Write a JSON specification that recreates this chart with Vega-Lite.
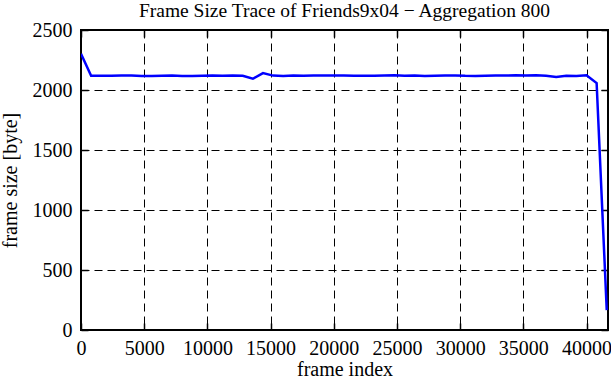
{
  "$schema": "https://vega.github.io/schema/vega-lite/v6.json",
  "autosize": {"type": "none"},
  "padding": {"left": 81, "top": 30, "right": 3, "bottom": 50},
  "width": 527,
  "height": 300,
  "background": "white",
  "title": {
    "text": "Frame Size Trace of Friends9x04 − Aggregation 800",
    "font": "Liberation Serif",
    "fontSize": 19.5,
    "fontWeight": "normal",
    "color": "black",
    "anchor": "middle",
    "offset": -1
  },
  "config": {
    "view": {"stroke": "black", "strokeWidth": 2},
    "axis": {
      "labelFont": "Liberation Serif",
      "labelFontSize": 20,
      "labelColor": "black",
      "titleFont": "Liberation Serif",
      "titleFontSize": 20,
      "titleFontWeight": "normal",
      "titleColor": "black",
      "domain": false,
      "tickColor": "black",
      "tickWidth": 1.5,
      "labelFlush": false,
      "labelOverlap": false
    }
  },
  "data": {
    "values": [
      {"frame": 0, "size": 2302},
      {"frame": 800, "size": 2118},
      {"frame": 1600, "size": 2118},
      {"frame": 2400, "size": 2119},
      {"frame": 3200, "size": 2120},
      {"frame": 4000, "size": 2121},
      {"frame": 4800, "size": 2117},
      {"frame": 5600, "size": 2116},
      {"frame": 6400, "size": 2118},
      {"frame": 7200, "size": 2120},
      {"frame": 8000, "size": 2117},
      {"frame": 8800, "size": 2116},
      {"frame": 9600, "size": 2119},
      {"frame": 10400, "size": 2121},
      {"frame": 11200, "size": 2118},
      {"frame": 12000, "size": 2120},
      {"frame": 12800, "size": 2118},
      {"frame": 13600, "size": 2094},
      {"frame": 14400, "size": 2141},
      {"frame": 15200, "size": 2120},
      {"frame": 16000, "size": 2116},
      {"frame": 16800, "size": 2121},
      {"frame": 17600, "size": 2118},
      {"frame": 18400, "size": 2120},
      {"frame": 19200, "size": 2121},
      {"frame": 20000, "size": 2120},
      {"frame": 20800, "size": 2121},
      {"frame": 21600, "size": 2119},
      {"frame": 22400, "size": 2118},
      {"frame": 23200, "size": 2118},
      {"frame": 24000, "size": 2120},
      {"frame": 24800, "size": 2122},
      {"frame": 25600, "size": 2118},
      {"frame": 26400, "size": 2120},
      {"frame": 27200, "size": 2116},
      {"frame": 28000, "size": 2118},
      {"frame": 28800, "size": 2121},
      {"frame": 29600, "size": 2121},
      {"frame": 30400, "size": 2118},
      {"frame": 31200, "size": 2117},
      {"frame": 32000, "size": 2119},
      {"frame": 32800, "size": 2121},
      {"frame": 33600, "size": 2120},
      {"frame": 34400, "size": 2122},
      {"frame": 35200, "size": 2121},
      {"frame": 36000, "size": 2122},
      {"frame": 36800, "size": 2118},
      {"frame": 37600, "size": 2108},
      {"frame": 38400, "size": 2118},
      {"frame": 39200, "size": 2117},
      {"frame": 40000, "size": 2122},
      {"frame": 40800, "size": 2058},
      {"frame": 41600, "size": 166}
    ]
  },
  "layer": [
    {
      "mark": {"type": "line", "color": "#0000ff", "strokeWidth": 2.5, "clip": true},
      "encoding": {
        "x": {
          "field": "frame", "type": "quantitative",
          "scale": {"domain": [0, 41700], "nice": false, "zero": true},
          "axis": {
            "orient": "bottom",
            "values": [0, 5000, 10000, 15000, 20000, 25000, 30000, 35000, 40000],
            "format": "d",
            "title": "frame index",
            "grid": true, "gridColor": "black", "gridDash": [8, 5], "gridWidth": 1, "gridOpacity": 1,
            "tickSize": -7,
            "labelPadding": 15,
            "titlePadding": 1
          }
        },
        "y": {
          "field": "size", "type": "quantitative",
          "scale": {"domain": [0, 2500], "nice": false},
          "axis": {
            "orient": "left",
            "values": [0, 500, 1000, 1500, 2000, 2500],
            "format": "d",
            "title": "frame size [byte]",
            "grid": true, "gridColor": "black", "gridDash": [8, 5], "gridWidth": 1, "gridOpacity": 1,
            "tickSize": -7,
            "labelPadding": 16,
            "titlePadding": 12
          }
        }
      }
    },
    {
      "mark": {"type": "line", "opacity": 0},
      "encoding": {
        "x": {
          "field": "frame", "type": "quantitative",
          "scale": {"domain": [0, 41700], "nice": false, "zero": true},
          "axis": {
            "orient": "top",
            "values": [0, 5000, 10000, 15000, 20000, 25000, 30000, 35000, 40000],
            "labels": false, "title": null, "grid": false, "tickSize": -7
          }
        },
        "y": {
          "field": "size", "type": "quantitative",
          "scale": {"domain": [0, 2500], "nice": false},
          "axis": {
            "orient": "right",
            "values": [0, 500, 1000, 1500, 2000, 2500],
            "labels": false, "title": null, "grid": false, "tickSize": -7
          }
        }
      }
    }
  ],
  "resolve": {"axis": {"x": "independent", "y": "independent"}}
}
